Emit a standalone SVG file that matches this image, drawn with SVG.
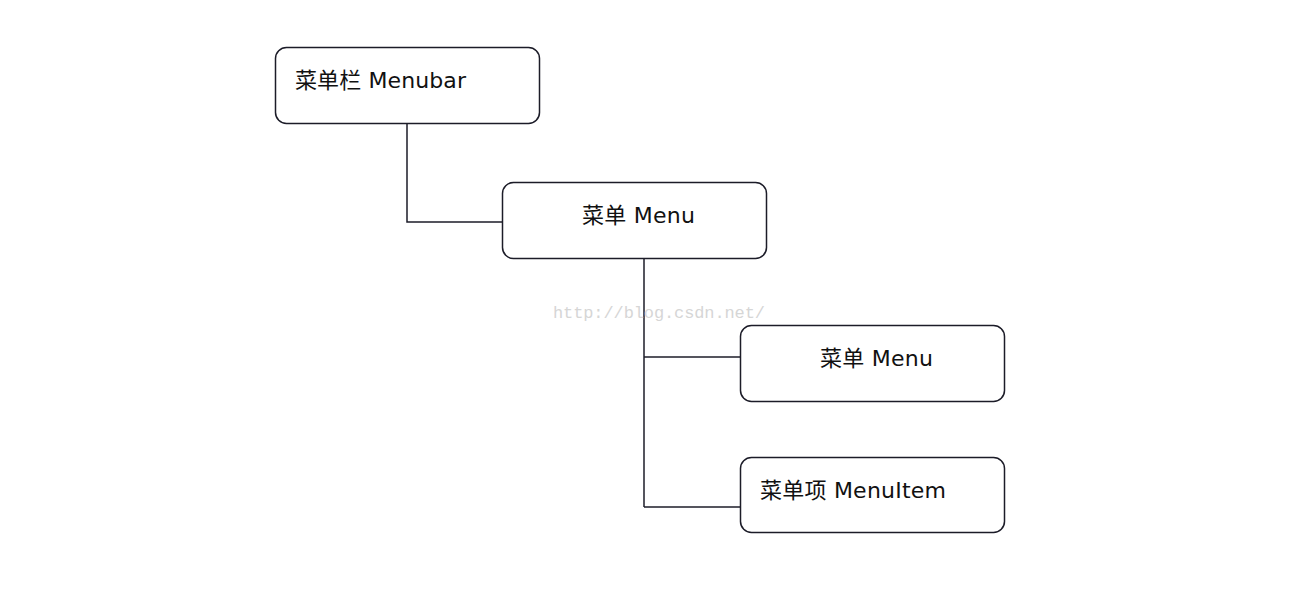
<svg xmlns="http://www.w3.org/2000/svg" width="1299" height="603" viewBox="0 0 1299 603">
<style>
.box{fill:#fff;stroke:#1c1c28;stroke-width:1.5}
.lbl{font-family:"DejaVu Sans","Noto Sans CJK SC",sans-serif;font-size:22px;fill:#111}
.con{fill:none;stroke:#1c1c28;stroke-width:1.5}
.wm{font-family:"Liberation Mono","DejaVu Sans Mono",monospace;font-size:17px;fill:#d6d6d6}
</style>
<rect width="1299" height="603" fill="#fff"/>
<g id="connectors">
<path class="con" d="M407 123 V222 H502"/>
<path class="con" d="M644 258 V507"/>
<path class="con" d="M644 357 H740"/>
<path class="con" d="M644 507 H740" stroke-width="2"/>
</g>
<text class="wm" x="553" y="318" textLength="212">http://blog.csdn.net/</text>
<g id="menubar">
<rect class="box" x="275.5" y="47.5" width="264" height="76" rx="11"/>
<text class="lbl" x="295" y="88" textLength="171">菜单栏 Menubar</text>
</g>
<g id="menu1">
<rect class="box" x="502.5" y="182.5" width="264" height="76" rx="11"/>
<text class="lbl" x="582" y="223" textLength="113">菜单 Menu</text>
</g>
<g id="menu2">
<rect class="box" x="740.5" y="325.5" width="264" height="76" rx="11"/>
<text class="lbl" x="820" y="366" textLength="113">菜单 Menu</text>
</g>
<g id="menuitem">
<rect class="box" x="740.5" y="457.5" width="264" height="75" rx="11"/>
<text class="lbl" x="760" y="498" textLength="186">菜单项 MenuItem</text>
</g>
</svg>
